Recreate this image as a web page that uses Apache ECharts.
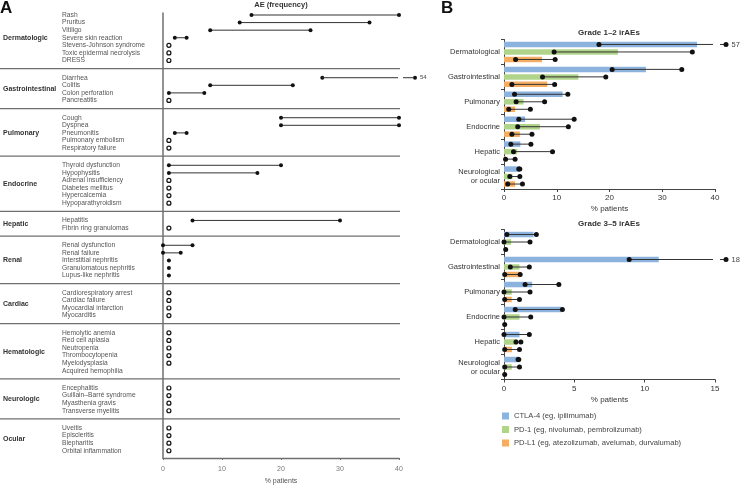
<!DOCTYPE html>
<html><head><meta charset="utf-8">
<script src="https://cdn.jsdelivr.net/npm/echarts@6/dist/echarts.min.js"></script>
<style>html,body{margin:0;padding:0;background:#fff}#c{width:741px;height:486px}</style>
</head><body><div id="c"></div>
<script>
const FONT = '"Liberation Sans", Arial, sans-serif';

// ---------- Panel A data ----------
const groupsA = ['Dermatologic','Gastrointestinal','Pulmonary','Endocrine','Hepatic','Renal','Cardiac','Hematologic','Neurologic','Ocular'];
const groupSizesA = [7,4,5,6,2,5,4,6,4,4];
const aeNames = [
  'Rash','Pruritus','Vitiligo','Severe skin reaction','Stevens-Johnson syndrome','Toxic epidermal necrolysis','DRESS',
  'Diarrhea','Colitis','Colon perforation','Pancreatitis',
  'Cough','Dyspnea','Pneumonitis','Pulmonary embolism','Respiratory failure',
  'Thyroid dysfunction','Hypophysitis','Adrenal insufficiency','Diabetes mellitus','Hypercalcemia','Hypoparathyroidism',
  'Hepatitis','Fibrin ring granulomas',
  'Renal dysfunction','Renal failure','Interstitial nephritis','Granulomatous nephritis','Lupus-like nephritis',
  'Cardiorespiratory arrest','Cardiac failure','Myocardial infarction','Myocarditis',
  'Hemolytic anemia','Red cell aplasia','Neutropenia','Thrombocytopenia','Myelodysplasia','Acquired hemophilia',
  'Encephalitis','Guillain–Barré syndrome','Myasthenia gravis','Transverse myelitis',
  'Uveitis','Episcleritis','Blepharitis','Orbital inflammation'
];
const aeLow  = [15,13,8,2,1,1,1, 27,8,1,1, 20,20,2,1,1, 1,1,1,1,1,1, 5,1, 0,0,1,1,1, 1,1,1,1, 1,1,1,1,1,null, 1,1,1,1, 1,1,1,1];
const aeHigh = [40,35,25,4,1,1,1, 54,22,7,1, 40,40,4,1,1, 20,16,1,1,1,1, 30,1, 5,3,1,1,1, 1,1,1,1, 1,1,1,1,1,null, 1,1,1,1, 1,1,1,1];
// 1 = open circle (rare / case reports)
const aeOpen = [0,0,0,0,1,1,1, 0,0,0,1, 0,0,0,1,1, 0,0,1,1,1,1, 0,1, 0,0,0,0,0, 1,1,1,1, 1,1,1,1,1,0, 1,1,1,1, 1,1,1,1];
const ticksAMax = 40;

// ---------- Panel B data ----------
const bCats = ['Dermatological','Gastrointestinal','Pulmonary','Endocrine','Hepatic','Neurological\nor ocular'];
const seriesNames = ['CTLA-4 (eg, ipilimumab)','PD-1 (eg, nivolumab, pembrolizumab)','PD-L1 (eg, atezolizumab, avelumab, durvalumab)'];
const seriesColors = ['#8cb2de','#b0d48a','#f5ad62'];
// Grade 1–2
const g12Ctla = [36.6, 26.9, 11.1, 4.0, 3.1, 3.0];
const g12CtlaLo = [18.0, 20.5, 2.0, 2.8, 1.3, 2.8];
const g12CtlaHi = [57, 33.7, 12.1, 13.3, 5.1, 3.0];
const g12Pd1 = [21.6, 14.1, 3.7, 6.8, 2.5, 1.6];
const g12Pd1Lo = [9.5, 7.3, 2.3, 2.6, 1.8, 1.1];
const g12Pd1Hi = [35.7, 19.3, 7.7, 12.2, 9.2, 3.0];
const g12Pdl1 = [7.2, 8.2, 2.1, 3.0, 0.3, 2.1];
const g12Pdl1Lo = [2.2, 1.5, 0.9, 1.5, 0.3, 0.7];
const g12Pdl1Hi = [9.7, 9.6, 5.0, 5.3, 2.1, 3.5];
// Grade 3–5
const g35Ctla = [2.1, 11.0, 2.0, 4.1, 1.1, 1.1];
const g35CtlaLo = [0.2, 8.9, 1.5, 0.8, 0, 1.0];
const g35CtlaHi = [2.3, 18, 3.9, 4.15, 1.8, 1.05];
const g35Pd1 = [0.5, 1.1, 0.55, 1.1, 0.95, 0.55];
const g35Pd1Lo = [0, 0.45, 0, 0, 0.85, 0.05];
const g35Pd1Hi = [1.85, 1.8, 1.85, 1.9, 1.2, 1.1];
const g35Pdl1 = [0, 1.15, 0.55, 0, 0.57, 0];
const g35Pdl1Lo = [0.12, 0.05, 0.05, 0.05, 0.05, 0.05];
const g35Pdl1Hi = [0.12, 1.15, 1.1, 0.05, 1.1, 0.05];
const g12Max = 40, g35Max = 15;

// ---------- layout helpers (row positions on the value axis) ----------
const GAP = 1.276;
const aePos = [];
const groupFirst = [], groupLast = [];
{
  let idx = 0;
  groupSizesA.forEach((n, g) => {
    groupFirst.push(idx);
    for (let j = 0; j < n; j++) { aePos.push(idx + g * GAP); idx++; }
    groupLast.push(idx - 1);
  });
}
const ROW = 7.58;
const yMinA = -2 / ROW, yMaxA = yMinA + 445 / ROW;

const chart = echarts.init(document.getElementById('c'));

function brokenLine(children, x1, xEnd, y, label, cfg) {
  children.push({type:'line', shape:{x1:x1, y1:y, x2:xEnd + cfg.lineEnd, y2:y}, style:{stroke:cfg.stroke, lineWidth:cfg.lw}});
  children.push({type:'line', shape:{x1:xEnd + cfg.segA, y1:y, x2:xEnd + cfg.segB, y2:y}, style:{stroke:cfg.stroke, lineWidth:cfg.lw}});
  children.push({type:'circle', shape:{cx:xEnd + cfg.dot, cy:y, r:cfg.r}, style:{fill:'#111'}});
  children.push({type:'text', style:{text:label, x:xEnd + cfg.dot + cfg.r + 3, y:y, fill:'#444', font:cfg.font, verticalAlign:'middle', align:'left'}});
}

// Panel A items
const itemsA = aeNames.map((n, i) => [aeLow[i] == null ? 0 : aeLow[i], aePos[i]]);
function renderA(params, api) {
  const i = params.dataIndex;
  const pos = aePos[i];
  const base = api.coord([0, pos]);
  const y = base[1];
  const ch = [];
  ch.push({type:'text', style:{text:aeNames[i], x:base[0] - 101, y:y, fill:'#555', font:'6.7px ' + FONT, verticalAlign:'middle', align:'left'}});
  if (aeLow[i] != null) {
    const lo = api.coord([aeLow[i], pos])[0];
    if (aeOpen[i]) {
      ch.push({type:'circle', shape:{cx:lo, cy:y, r:2}, style:{fill:'#fff', stroke:'#111', lineWidth:1.2}});
    } else if (aeHigh[i] > ticksAMax) {
      const xEnd = api.coord([ticksAMax, pos])[0];
      ch.push({type:'circle', shape:{cx:lo, cy:y, r:2}, style:{fill:'#111'}});
      brokenLine(ch, lo, xEnd, y, String(aeHigh[i]), {lineEnd:-1, segA:4, segB:14, dot:16, r:2, stroke:'#333', lw:1, font:'6px ' + FONT});
    } else {
      const hi = api.coord([aeHigh[i], pos])[0];
      if (hi > lo) ch.push({type:'line', shape:{x1:lo, y1:y, x2:hi, y2:y}, style:{stroke:'#333', lineWidth:1}});
      ch.push({type:'circle', shape:{cx:lo, cy:y, r:2}, style:{fill:'#111'}});
      if (hi > lo) ch.push({type:'circle', shape:{cx:hi, cy:y, r:2}, style:{fill:'#111'}});
    }
  }
  return {type:'group', children:ch};
}

// Panel A groups & separators
const groupData = groupsA.map((g, k) => [0, (aePos[groupFirst[k]] + aePos[groupLast[k]]) / 2]);
function renderGroups(params, api) {
  const k = params.dataIndex;
  const ch = [];
  const c = api.coord([0, (aePos[groupFirst[k]] + aePos[groupLast[k]]) / 2]);
  ch.push({type:'text', style:{text:groupsA[k], x:3, y:c[1], fill:'#333', font:'bold 7px ' + FONT, verticalAlign:'middle', align:'left'}});
  if (k < groupsA.length - 1) {
    const sp = aePos[groupLast[k]] + 0.47 * (1 + GAP);
    const s = api.coord([ticksAMax, sp]);
    ch.push({type:'line', shape:{x1:0, y1:s[1], x2:s[0] + 1, y2:s[1]}, style:{stroke:'#6f6f6f', lineWidth:1.3}});
  }
  return {type:'group', children:ch};
}

// Panel B ranges
function rangeData(los, his) {
  const d = [];
  los.forEach((arr, s) => arr.forEach((lo, c) => d.push([lo, his[s][c], c, s])));
  return d;
}
const range12 = rangeData([g12CtlaLo, g12Pd1Lo, g12Pdl1Lo], [g12CtlaHi, g12Pd1Hi, g12Pdl1Hi]);
const range35 = rangeData([g35CtlaLo, g35Pd1Lo, g35Pdl1Lo], [g35CtlaHi, g35Pd1Hi, g35Pdl1Hi]);
function makeRenderB(maxV) {
  return function (params, api) {
    const lo = api.value(0), hi = api.value(1), c = api.value(2), s = api.value(3);
    const off = [-7.5, 0, 7.5][s];
    const p1 = api.coord([lo, c]);
    const y = p1[1] + off;
    const ch = [];
    if (hi > maxV) {
      const xEnd = api.coord([maxV, c])[0];
      brokenLine(ch, p1[0], xEnd, y, String(hi), {lineEnd:-2, segA:5, segB:10, dot:11, r:2.5, stroke:'#333', lw:1, font:'7.5px ' + FONT});
    } else {
      const p2 = api.coord([hi, c]);
      if (p2[0] - p1[0] > 0.5) {
        ch.push({type:'line', shape:{x1:p1[0], y1:y, x2:p2[0], y2:y}, style:{stroke:'#333', lineWidth:1}});
        ch.push({type:'circle', shape:{cx:p2[0], cy:y, r:2.5}, style:{fill:'#111'}});
      }
    }
    ch.push({type:'circle', shape:{cx:p1[0], cy:y, r:2.5}, style:{fill:'#111'}});
    return {type:'group', children:ch};
  };
}

function barSeries(name, color, data, idx) {
  return {type:'bar', name:name, xAxisIndex:idx, yAxisIndex:idx, data:data, barWidth:5.5, barGap:'36%',
    itemStyle:{color:color}, silent:true, z:2};
}

const xAxisB = (idx, max, interval) => ({
  gridIndex: idx, type:'value', min:0, max:max, interval:interval,
  name:'% patients', nameLocation:'middle', nameGap:16, nameTextStyle:{fontSize:8, color:'#333', fontFamily:FONT},
  axisLine:{show:true, onZero:false, lineStyle:{color:'#444', width:1}},
  axisTick:{show:true, length:3, lineStyle:{color:'#444'}},
  axisLabel:{fontSize:8, color:'#333', margin:5, fontFamily:FONT},
  splitLine:{show:false}
});
const yAxisB = (idx) => ({
  gridIndex: idx, type:'category', data:bCats, inverse:true,
  axisLine:{show:true, onZero:false, lineStyle:{color:'#444', width:1}},
  axisTick:{show:true, length:3, lineStyle:{color:'#444'}},
  axisLabel:{fontSize:7.5, color:'#333', margin:4, lineHeight:9, fontFamily:FONT},
  splitLine:{show:false}
});

const option = {
  animation:false,
  textStyle:{fontFamily:FONT},
  grid:[
    {left:163, top:13, width:236, height:445, containLabel:false, outerBoundsMode:'none'},
    {left:504, top:39.5, width:211, height:149.5, containLabel:false, outerBoundsMode:'none'},
    {left:504, top:229.5, width:211, height:150, containLabel:false, outerBoundsMode:'none'}
  ],
  xAxis:[
    {gridIndex:0, type:'value', min:0, max:ticksAMax, interval:10, position:'bottom',
      name:'% patients', nameLocation:'middle', nameGap:20, nameTextStyle:{fontSize:7, color:'#555', fontFamily:FONT},
      axisLine:{show:true, onZero:false, lineStyle:{color:'#6f6f6f', width:1.3}},
      axisTick:{show:true, length:2, lineStyle:{color:'#6f6f6f'}},
      axisLabel:{fontSize:7, color:'#777', margin:8, fontFamily:FONT},
      splitLine:{show:false}},
    xAxisB(1, g12Max, 10),
    xAxisB(2, g35Max, 5)
  ],
  yAxis:[
    {gridIndex:0, type:'value', inverse:true, min:yMinA, max:yMaxA, position:'left',
      axisLine:{show:true, onZero:false, lineStyle:{color:'#6f6f6f', width:1.5}},
      axisTick:{show:false}, axisLabel:{show:false}, splitLine:{show:false}},
    yAxisB(1),
    yAxisB(2)
  ],
  legend:{
    orient:'vertical', left:502, top:412, padding:0, itemWidth:7, itemHeight:7, itemGap:5.5,
    icon:'rect', textStyle:{fontSize:7.6, color:'#444', fontFamily:FONT}, selectedMode:false,
    data:seriesNames
  },
  graphic:[
    {type:'text', left:0, top:0, style:{text:'A', font:'bold 17px ' + FONT, fill:'#111'}},
    {type:'text', left:441, top:0, style:{text:'B', font:'bold 17px ' + FONT, fill:'#111'}},
    {type:'text', x:281, y:5, style:{text:'AE (frequency)', font:'bold 7.5px ' + FONT, fill:'#333', align:'center', verticalAlign:'middle'}},
    {type:'text', x:609, y:32.5, style:{text:'Grade 1–2 irAEs', font:'bold 8px ' + FONT, fill:'#333', align:'center', verticalAlign:'middle'}},
    {type:'text', x:609, y:224, style:{text:'Grade 3–5 irAEs', font:'bold 8px ' + FONT, fill:'#333', align:'center', verticalAlign:'middle'}}
  ],
  series:[
    {type:'custom', xAxisIndex:0, yAxisIndex:0, data:groupData, renderItem:renderGroups, silent:true, z:3, encode:{x:0, y:1}},
    {type:'custom', xAxisIndex:0, yAxisIndex:0, data:itemsA, renderItem:renderA, silent:true, z:4, encode:{x:0, y:1}},
    barSeries(seriesNames[0], seriesColors[0], g12Ctla, 1),
    barSeries(seriesNames[1], seriesColors[1], g12Pd1, 1),
    barSeries(seriesNames[2], seriesColors[2], g12Pdl1, 1),
    barSeries(seriesNames[0], seriesColors[0], g35Ctla, 2),
    barSeries(seriesNames[1], seriesColors[1], g35Pd1, 2),
    barSeries(seriesNames[2], seriesColors[2], g35Pdl1, 2),
    {type:'custom', xAxisIndex:1, yAxisIndex:1, data:range12, renderItem:makeRenderB(g12Max), silent:true, z:5, encode:{x:[0,1], y:2}},
    {type:'custom', xAxisIndex:2, yAxisIndex:2, data:range35, renderItem:makeRenderB(g35Max), silent:true, z:5, encode:{x:[0,1], y:2}}
  ]
};
chart.setOption(option);
</script>
</body></html>
